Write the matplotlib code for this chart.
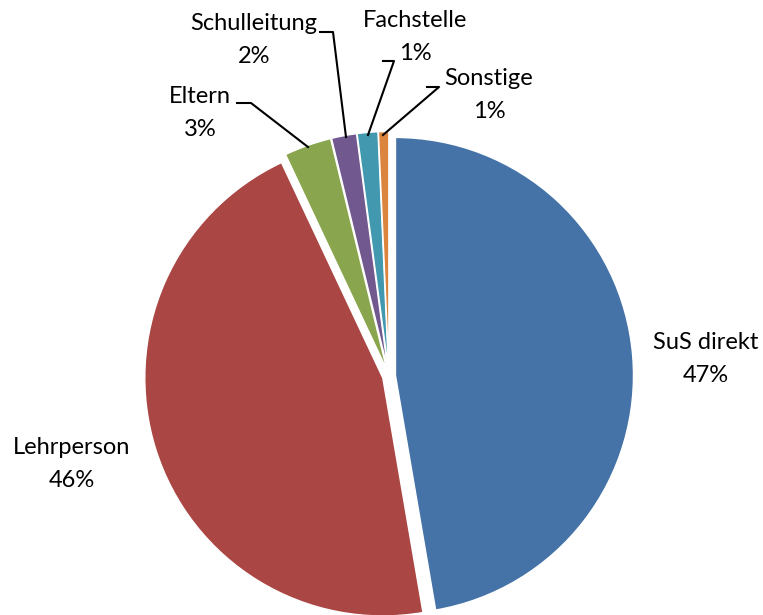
import matplotlib
matplotlib.use("Agg")
import matplotlib.pyplot as plt

# data (percent)
categories = ["SuS direkt", "Lehrperson", "Eltern", "Schulleitung", "Fachstelle", "Sonstige"]
values = [47.3, 45.7, 3.2, 1.7, 1.4, 0.7]
colors = ["#4572A7", "#AA4643", "#89A54E", "#71588F", "#4198AF", "#DB843D"]

W, H = 763, 615
fig = plt.figure(figsize=(W / 100, H / 100), dpi=100)
ax = fig.add_axes([0, 0, 1, 1])

cx, cy, r = 389, H - 376, 238
# explode is an absolute offset here (data units = pixels)
ax.pie(values, colors=colors, startangle=90, counterclock=False,
       center=(cx, cy), radius=r, explode=[6.5] * len(values),
       wedgeprops=dict(edgecolor="white", linewidth=1.0), frame=True)
ax.set_xlim(0, W)
ax.set_ylim(0, H)
ax.set_aspect("equal")
ax.axis("off")

font = dict(family=["Lato", "DejaVu Sans"], fontsize=17, color="black",
            ha="center", va="center", linespacing=1.7)

# label centres (pixels from top-left)
label_pos = [(706, 359), (72, 464), (200, 113), (254, 40), (415, 37), (489, 95)]
for name, v, (x, y) in zip(categories, values, label_pos):
    ax.text(x, H - y, f"{name}\n{round(v):.0f}%", **font)

# leader lines for the small slices
leaders = [
    [(237, 103), (251, 103), (308, 147)],
    [(320, 32), (333, 32), (346, 137)],
    [(383, 61), (394, 61), (368, 135)],
    [(427, 87), (439, 87), (383, 135)],
]
for pts in leaders:
    xs = [p[0] for p in pts]
    ys = [H - p[1] for p in pts]
    ax.plot(xs, ys, color="black", linewidth=1.5)

fig.savefig("out.png", dpi=100)
